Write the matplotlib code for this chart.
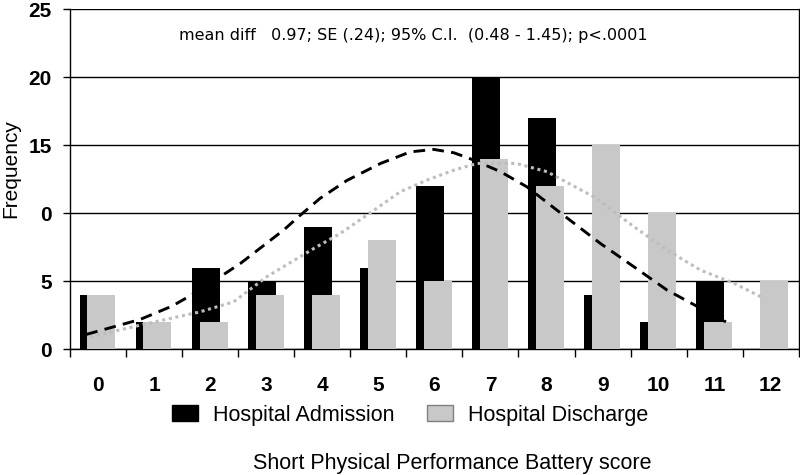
#!/usr/bin/env python3

import matplotlib
matplotlib.use("Agg")
import matplotlib.pyplot as plt
from matplotlib.patches import Patch
import numpy as np

# data
scores = [0, 1, 2, 3, 4, 5, 6, 7, 8, 9, 10, 11, 12]
admission = [4, 2, 6, 5, 9, 6, 12, 20, 17, 4, 2, 5, 0]
discharge = [4, 2, 2, 4, 4, 8, 5, 14, 12, 15, 10, 2, 5]

# fitted curves, points
adm_curve_x = [-0.21, 0.75, 1.32, 1.82, 2.18, 2.54, 3.31, 3.61, 3.96, 4.44,
               5.04, 5.57, 5.99, 6.35, 6.7, 7.18, 7.65, 8.19, 8.96, 9.56,
               10.15, 10.75, 11.2]
adm_curve_y = [1.08, 2.18, 3.16, 4.34, 5.32, 6.3, 8.75, 9.85, 11.08, 12.4,
               13.65, 14.5, 14.68, 14.43, 13.9, 13.04, 11.93, 10.2, 7.77, 6.05,
               4.34, 3.0, 2.0]
dis_curve_x = [-0.14, 0.75, 1.82, 2.42, 3.01, 3.85, 4.32, 4.92, 5.39, 5.87,
               6.35, 6.76, 7.46, 8.01, 8.84, 9.56, 10.15, 10.75, 11.35, 11.88]
dis_curve_y = [0.9, 1.76, 2.74, 3.48, 5.32, 7.4, 8.5, 10.2, 11.57, 12.43,
               13.16, 13.65, 13.65, 13.04, 11.2, 9.0, 7.28, 5.8, 4.83, 3.73]

y_ticks = [0, 5, 10, 15, 20, 25]
y_ticklabels = ["0", "5", "0", "15", "20", "25"]

# set font
plt.rcParams['font.family'] = ['Liberation Sans', 'DejaVu Sans']

fig = plt.figure(figsize=(8, 4.75), dpi=100)
ax = fig.add_axes([0.0875, 0.265, 0.911, 0.716])

x = np.array(scores)
ax.bar(x - 0.08, admission, 0.5, color='black', zorder=2)
ax.bar(x + 0.06, discharge, 0.5, color='#c8c8c8', zorder=3)

# curves
ax.plot(adm_curve_x, adm_curve_y, color='black', linestyle=(0, (4, 2.5)),
        linewidth=2.1, zorder=4)
ax.plot(dis_curve_x, dis_curve_y, color='#bdbdbd', linestyle=(0, (1, 1.2)),
        linewidth=2.2, zorder=4)

ax.set_xlim(-0.5, 12.5)
ax.set_ylim(0, 25)

# x: ticks at category edges, labels at centres
ax.set_xticks(np.arange(-0.5, 12.6, 1))
ax.set_xticklabels([])
ax.set_xticks(x, minor=True)
ax.set_xticklabels([str(s) for s in scores], minor=True, fontsize=15,
                   fontweight='bold')
ax.tick_params(axis='x', which='major', length=6, width=1, direction='out')
ax.tick_params(axis='x', which='minor', length=0, pad=19)

ax.set_yticks(y_ticks)
ax.set_yticklabels(y_ticklabels, fontsize=15, fontweight='bold')
ax.tick_params(axis='y', length=5, width=1, direction='out', pad=8)

# grid lines
ax.yaxis.grid(True, color='black', linewidth=1)
ax.set_axisbelow(True)

for s in ax.spines.values():
    s.set_linewidth(1)
ax.spines['top'].set_visible(False)

fig.text(0.013, 0.646, "Frequency", rotation=90, ha='center', va='center',
         fontsize=15)

fig.text(0.517, 0.926, "mean diff   0.97; SE (.24); 95% C.I.  (0.48 - 1.45); p<.0001",
         ha='center', va='center', fontsize=11.5, family=['DejaVu Sans'])

# legend
handles = [Patch(facecolor='black', edgecolor='black'),
           Patch(facecolor='#c8c8c8', edgecolor='#808080')]
fig.legend(handles, ["Hospital Admission", "Hospital Discharge"],
           loc='center', bbox_to_anchor=(0.513, 0.126), ncol=2, frameon=False,
           fontsize=15.5, handlelength=1.2, handleheight=0.8, columnspacing=1.5,
           handletextpad=0.7)

fig.text(0.565, 0.025, "Short Physical Performance Battery score", ha='center',
         va='center', fontsize=15.5)

plt.savefig("out.png", dpi=100)
